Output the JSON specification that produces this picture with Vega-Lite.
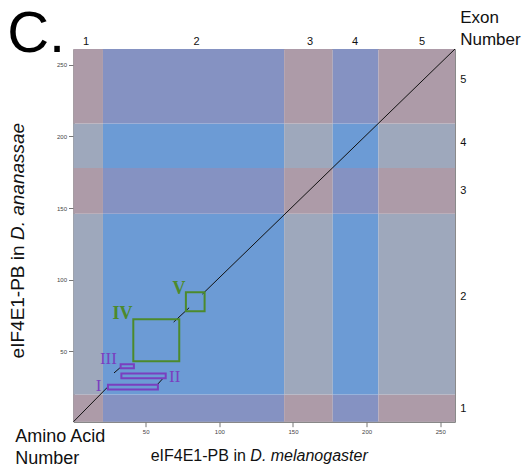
{
  "$schema": "https://vega.github.io/schema/vega-lite/v6.json",
  "autosize": {"type": "none"},
  "width": 381.5,
  "height": 372.7,
  "padding": {"left": 73.5, "top": 49, "right": 68, "bottom": 44.3},
  "background": "white",
  "config": {
    "view": {"stroke": "#8a8a8a", "strokeWidth": 1},
    "font": "Liberation Sans"
  },
  "layer": [
    {
      "data": {"values": [
        {"x1": 1, "x2": 21, "y1": 1, "y2": 20, "t": "pp"},
        {"x1": 21, "x2": 144, "y1": 1, "y2": 20, "t": "bp"},
        {"x1": 144, "x2": 177, "y1": 1, "y2": 20, "t": "pp"},
        {"x1": 177, "x2": 208, "y1": 1, "y2": 20, "t": "bp"},
        {"x1": 208, "x2": 260, "y1": 1, "y2": 20, "t": "pp"},
        {"x1": 1, "x2": 21, "y1": 20, "y2": 146, "t": "pb"},
        {"x1": 21, "x2": 144, "y1": 20, "y2": 146, "t": "bb"},
        {"x1": 144, "x2": 177, "y1": 20, "y2": 146, "t": "pb"},
        {"x1": 177, "x2": 208, "y1": 20, "y2": 146, "t": "bb"},
        {"x1": 208, "x2": 260, "y1": 20, "y2": 146, "t": "pb"},
        {"x1": 1, "x2": 21, "y1": 146, "y2": 178, "t": "pp"},
        {"x1": 21, "x2": 144, "y1": 146, "y2": 178, "t": "bp"},
        {"x1": 144, "x2": 177, "y1": 146, "y2": 178, "t": "pp"},
        {"x1": 177, "x2": 208, "y1": 146, "y2": 178, "t": "bp"},
        {"x1": 208, "x2": 260, "y1": 146, "y2": 178, "t": "pp"},
        {"x1": 1, "x2": 21, "y1": 178, "y2": 209, "t": "pb"},
        {"x1": 21, "x2": 144, "y1": 178, "y2": 209, "t": "bb"},
        {"x1": 144, "x2": 177, "y1": 178, "y2": 209, "t": "pb"},
        {"x1": 177, "x2": 208, "y1": 178, "y2": 209, "t": "bb"},
        {"x1": 208, "x2": 260, "y1": 178, "y2": 209, "t": "pb"},
        {"x1": 1, "x2": 21, "y1": 209, "y2": 261, "t": "pp"},
        {"x1": 21, "x2": 144, "y1": 209, "y2": 261, "t": "bp"},
        {"x1": 144, "x2": 177, "y1": 209, "y2": 261, "t": "pp"},
        {"x1": 177, "x2": 208, "y1": 209, "y2": 261, "t": "bp"},
        {"x1": 208, "x2": 260, "y1": 209, "y2": 261, "t": "pp"}
      ]},
      "mark": {"type": "rect", "strokeWidth": 0.6},
      "encoding": {
        "x": {"field": "x1", "type": "quantitative", "title": null,
              "scale": {"domain": [1, 260], "nice": false, "zero": false},
              "axis": {"values": [50, 100, 150, 200, 250], "grid": false, "labelFontSize": 6, "labelColor": "#444", "tickColor": "#777", "domainColor": "#777", "tickSize": 5, "labelPadding": 2}},
        "x2": {"field": "x2"},
        "y": {"field": "y1", "type": "quantitative", "title": null,
              "scale": {"domain": [1, 261], "nice": false, "zero": false},
              "axis": {"values": [50, 100, 150, 200, 250], "grid": false, "labelFontSize": 6, "labelColor": "#444", "tickColor": "#777", "domainColor": "#777", "tickSize": 5, "labelPadding": 2}},
        "y2": {"field": "y2"},
        "color": {"field": "t", "type": "nominal", "legend": null,
                  "scale": {"domain": ["pp", "bp", "pb", "bb"], "range": ["#ad9ba8", "#8592c2", "#9ea8bc", "#6c9bd5"]}},
        "stroke": {"field": "t", "type": "nominal", "legend": null}
      }
    },
    {
      "data": {"values": [
        {"a": 1, "b": 1, "c": 24, "d": 25},
        {"a": 58, "b": 27, "c": 62, "d": 31.5},
        {"a": 28.5, "b": 35, "c": 33, "d": 39},
        {"a": 69, "b": 70.5, "c": 79.5, "d": 80.5},
        {"a": 88.5, "b": 90, "c": 260, "d": 261}
      ]},
      "mark": {"type": "rule", "color": "#111", "strokeWidth": 1},
      "encoding": {
        "x": {"field": "a", "type": "quantitative", "title": null},
        "y": {"field": "b", "type": "quantitative", "title": null},
        "x2": {"field": "c"},
        "y2": {"field": "d"}
      }
    },
    {
      "data": {"values": [
        {"a": 24.4, "b": 23.4, "c": 58.3, "d": 26.7, "g": "purple"},
        {"a": 33.5, "b": 31.3, "c": 63.6, "d": 34.6, "g": "purple"},
        {"a": 33, "b": 38.3, "c": 42, "d": 41.1, "g": "purple"},
        {"a": 41.6, "b": 43.2, "c": 72.8, "d": 72.4, "g": "green"},
        {"a": 77.3, "b": 78, "c": 90, "d": 91.3, "g": "green"}
      ]},
      "mark": {"type": "rect", "filled": false, "strokeWidth": 2},
      "encoding": {
        "x": {"field": "a", "type": "quantitative", "title": null},
        "y": {"field": "b", "type": "quantitative", "title": null},
        "x2": {"field": "c"},
        "y2": {"field": "d"},
        "stroke": {"field": "g", "type": "nominal", "legend": null,
                   "scale": {"domain": ["purple", "green"], "range": ["#7a3fbf", "#4c8a2c"]}}
      }
    },
    {
      "data": {"values": [
        {"px": 18, "py": 26, "label": "I"},
        {"px": 69.7, "py": 32, "label": "II"},
        {"px": 24.7, "py": 44.9, "label": "III"}
      ]},
      "mark": {"type": "text", "font": "Liberation Serif", "fontSize": 17, "color": "#7a3fbf", "baseline": "middle", "align": "center"},
      "encoding": {
        "x": {"field": "px", "type": "quantitative", "title": null},
        "y": {"field": "py", "type": "quantitative", "title": null},
        "text": {"field": "label"}
      }
    },
    {
      "data": {"values": [
        {"px": 34.2, "py": 75.9, "label": "IV"},
        {"px": 72.6, "py": 93.8, "label": "V"}
      ]},
      "mark": {"type": "text", "font": "Liberation Serif", "fontSize": 18, "fontWeight": "bold", "color": "#4c8a2c", "baseline": "middle", "align": "center"},
      "encoding": {
        "x": {"field": "px", "type": "quantitative", "title": null},
        "y": {"field": "py", "type": "quantitative", "title": null},
        "text": {"field": "label"}
      }
    },
    {
      "data": {"values": [
        {"px": 9.5, "py": 265.9, "label": "1"},
        {"px": 84.6, "py": 265.9, "label": "2"},
        {"px": 161.6, "py": 265.9, "label": "3"},
        {"px": 192.2, "py": 265.9, "label": "4"},
        {"px": 237.6, "py": 265.9, "label": "5"}
      ]},
      "mark": {"type": "text", "fontSize": 11, "color": "#111", "baseline": "middle", "align": "center"},
      "encoding": {
        "x": {"field": "px", "type": "quantitative", "title": null},
        "y": {"field": "py", "type": "quantitative", "title": null},
        "text": {"field": "label"}
      }
    },
    {
      "data": {"values": [
        {"px": 263.5, "py": 10, "label": "1"},
        {"px": 263.5, "py": 88, "label": "2"},
        {"px": 263.5, "py": 162, "label": "3"},
        {"px": 263.5, "py": 195.4, "label": "4"},
        {"px": 263.5, "py": 239.4, "label": "5"}
      ]},
      "mark": {"type": "text", "fontSize": 11, "color": "#111", "baseline": "middle", "align": "left"},
      "encoding": {
        "x": {"field": "px", "type": "quantitative", "title": null},
        "y": {"field": "py", "type": "quantitative", "title": null},
        "text": {"field": "label"}
      }
    },
    {
      "data": {"values": [
        {"px": 118, "py": -26.5, "label": "eIF4E1-PB in"}
      ]},
      "mark": {"type": "text", "fontSize": 16, "color": "#111", "baseline": "alphabetic", "align": "right"},
      "encoding": {
        "x": {"field": "px", "type": "quantitative", "title": null},
        "y": {"field": "py", "type": "quantitative", "title": null},
        "text": {"field": "label"}
      }
    },
    {
      "data": {"values": [
        {"px": 118, "py": -26.5, "label": "D. melanogaster"}
      ]},
      "mark": {"type": "text", "fontSize": 16, "fontStyle": "italic", "dx": 4.5, "color": "#111", "baseline": "alphabetic", "align": "left"},
      "encoding": {
        "x": {"field": "px", "type": "quantitative", "title": null},
        "y": {"field": "py", "type": "quantitative", "title": null},
        "text": {"field": "label"}
      }
    },
    {
      "data": {"values": [
        {"px": -36.7, "py": 124, "label": "eIF4E1-PB in"}
      ]},
      "mark": {"type": "text", "fontSize": 19, "angle": 270, "color": "#111", "baseline": "middle", "align": "right"},
      "encoding": {
        "x": {"field": "px", "type": "quantitative", "title": null},
        "y": {"field": "py", "type": "quantitative", "title": null},
        "text": {"field": "label"}
      }
    },
    {
      "data": {"values": [
        {"px": -36.7, "py": 124, "label": "D. ananassae"}
      ]},
      "mark": {"type": "text", "fontSize": 19, "fontStyle": "italic", "angle": 270, "dx": 5.3, "color": "#111", "baseline": "middle", "align": "left"},
      "encoding": {
        "x": {"field": "px", "type": "quantitative", "title": null},
        "y": {"field": "py", "type": "quantitative", "title": null},
        "text": {"field": "label"}
      }
    },
    {
      "data": {"values": [
        {"px": -38.5, "py": -13, "label": "Amino Acid\nNumber"}
      ]},
      "mark": {"type": "text", "fontSize": 18, "lineBreak": "\n", "lineHeight": 22, "color": "#111", "baseline": "alphabetic", "align": "left"},
      "encoding": {
        "x": {"field": "px", "type": "quantitative", "title": null},
        "y": {"field": "py", "type": "quantitative", "title": null},
        "text": {"field": "label"}
      }
    },
    {
      "data": {"values": [
        {"px": 263.5, "py": 279, "label": "Exon\nNumber"}
      ]},
      "mark": {"type": "text", "fontSize": 17, "lineBreak": "\n", "lineHeight": 22, "color": "#111", "baseline": "alphabetic", "align": "left"},
      "encoding": {
        "x": {"field": "px", "type": "quantitative", "title": null},
        "y": {"field": "py", "type": "quantitative", "title": null},
        "text": {"field": "label"}
      }
    },
    {
      "data": {"values": [
        {"px": -44, "py": 259, "label": "C."}
      ]},
      "mark": {"type": "text", "fontSize": 58, "color": "#000", "baseline": "alphabetic", "align": "left"},
      "encoding": {
        "x": {"field": "px", "type": "quantitative", "title": null},
        "y": {"field": "py", "type": "quantitative", "title": null},
        "text": {"field": "label"}
      }
    }
  ]
}
